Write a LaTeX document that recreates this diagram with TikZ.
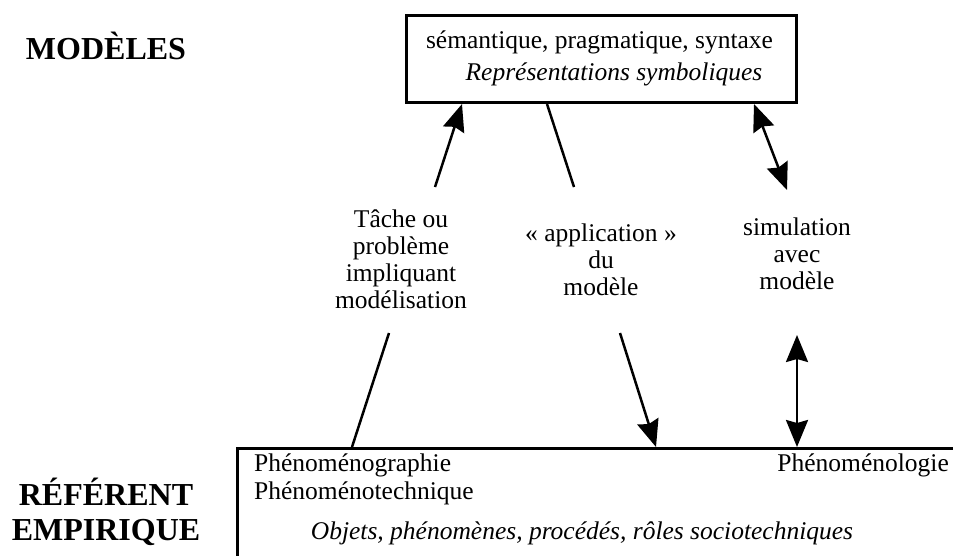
\documentclass[tikz,border=0pt]{standalone}
\usepackage{fontspec}
\setmainfont{Liberation Serif}
\usetikzlibrary{arrows.meta}
\begin{document}
\begin{tikzpicture}[x=1pt,y=-1pt,
  body/.style={font=\fontsize{25.5}{27}\selectfont, inner sep=0pt},
  bodyit/.style={font=\fontsize{25.5}{27}\selectfont\itshape, inner sep=0pt},
  label/.style={body, align=center, anchor=base},
  heading/.style={font=\fontsize{32}{35}\selectfont\bfseries, inner sep=0pt, align=center, anchor=base},
  frame/.style={draw, line width=3pt, inner sep=0pt, anchor=north west},
  link/.style={line width=2.5pt},
  tip/.style={-{Stealth[length=27pt,width=22pt,inset=3pt]}},
  twotips/.style={{Stealth[length=27pt,width=22pt,inset=3pt]}-{Stealth[length=27pt,width=22pt,inset=3pt]}}
]
\useasboundingbox (0,0) rectangle (953,555);
\clip (0,0) rectangle (953,555);

% side headings (multi-line nodes sit on the baseline of their last line)
\node[heading] (hmod) at (106,59) {MODÈLES};
\node[heading] (href) at (106,540) {RÉFÉRENT\\EMPIRIQUE};

% upper box: models
\node[frame, minimum width=390pt, minimum height=87pt] (models) at (405,14) {};
\node[body, anchor=base] (sem) at (599.5,48) {sémantique, pragmatique, syntaxe};
\node[bodyit, anchor=base] (rep) at (614,80) {Représentations symboliques};

% lower box: empirical referent (runs past the page edges)
\node[frame, minimum width=800pt, minimum height=150pt] (ref) at (236,447) {};
\node[body, anchor=base west] (graph) at (254,471) {Phénoménographie};
\node[body, anchor=base west] (tech) at (254,499) {Phénoménotechnique};
\node[body, anchor=base east] (logie) at (949,471) {Phénoménologie};
\node[bodyit, anchor=base] (objs) at (582,539) {Objets, phénomènes, procédés, rôles sociotechniques};

% middle labels
\node[label] (task) at (401,308) {Tâche ou\\problème\\impliquant\\modélisation};
\node[label] (appl) at (601,295) {« application »\\du\\modèle};
\node[label] (simu) at (797,289) {simulation\\avec\\modèle};

% free ends of the connectors
\coordinate (t1) at (435,187);
\coordinate (t2) at (574,187);
\coordinate (t3) at (787,190);
\coordinate (b1) at (389,333);
\coordinate (b2) at (620,333);
\coordinate (b3) at (797,335);

% connectors
\draw[link,tip] (t1) -- ([xshift=57pt]models.south west);
\draw[link] ([xshift=142pt]models.south west) -- (t2);
\draw[link,twotips] ([xshift=349pt]models.south west) -- (t3);
\draw[link] (b1) -- ([xshift=116pt]ref.north west);
\draw[link,tip] (b2) -- ([xshift=420pt]ref.north west);
\draw[link,twotips] (b3) -- ([xshift=561pt]ref.north west);
\end{tikzpicture}
\end{document}
